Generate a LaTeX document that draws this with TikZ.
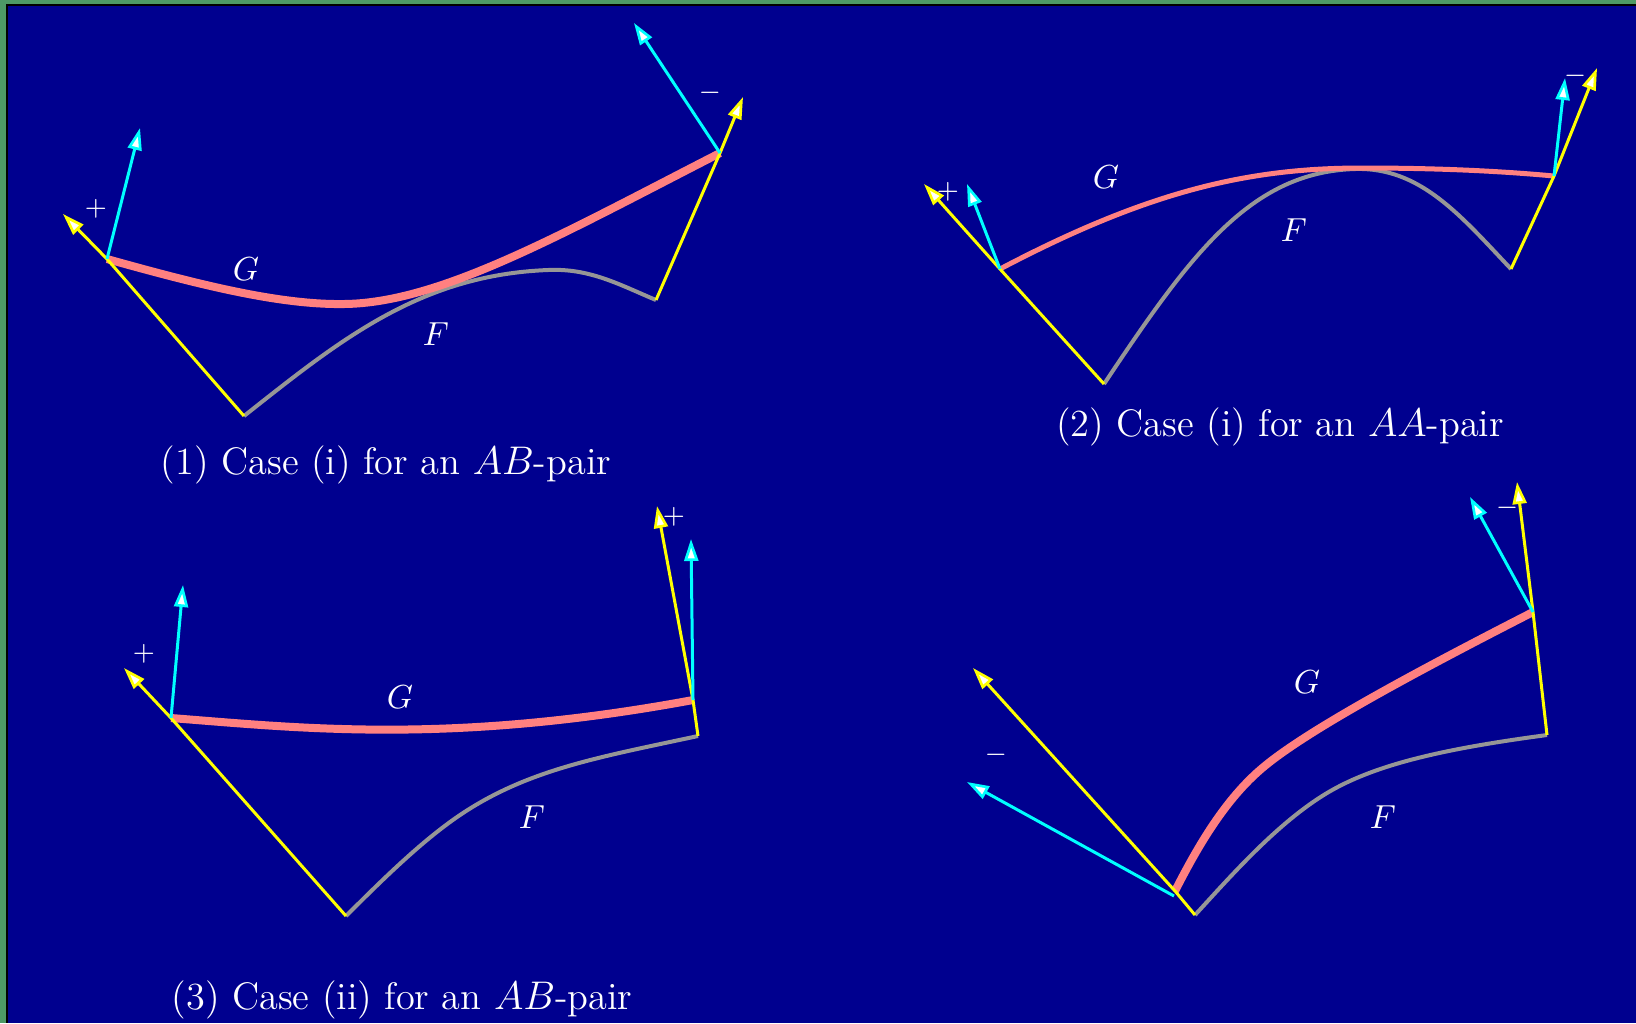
\documentclass[tikz,border=0pt]{standalone}
\usetikzlibrary{arrows.meta}
\definecolor{bgblue}{RGB}{0,0,143}
\definecolor{framegreen}{RGB}{77,153,102}
\definecolor{salmonG}{RGB}{255,128,128}
\definecolor{grayF}{RGB}{150,150,150}
\definecolor{cyanV}{RGB}{0,255,255}
\definecolor{yellowV}{RGB}{255,255,0}
\begin{document}
\begin{tikzpicture}[x=0.3pt,y=-0.3pt,
  tipA/.tip={Triangle[length=6.6pt,width=4.2pt,fill=white,line width=0.8pt]},
  yline/.style={draw=yellowV,line width=0.9pt,-tipA},
  cline/.style={draw=cyanV,line width=0.9pt,-tipA},
  fcurve/.style={draw=grayF,line width=1.2pt},
  gcurve/.style={draw=salmonG,line width=2.4pt},
  gthin/.style={draw=salmonG,line width=1.5pt},
  lab/.style={text=white,inner sep=0pt,font=\fontsize{10}{12}\selectfont},
  sgn/.style={text=white,inner sep=0pt,font=\fontsize{8}{10}\selectfont},
  captext/.style={text=white,inner sep=0pt,font=\fontsize{11.5}{13}\selectfont}]
\useasboundingbox (0,0) rectangle (1636,1023);
\fill[framegreen] (0,0) rectangle (1636,1023);
\fill[black] (6,4) rectangle (1636,1023);
\fill[bgblue] (8,6) rectangle (1636,1023);

% ---------- Panel 1 ----------
\coordinate (f1s) at (244,416); \coordinate (f1e) at (656,300);
\coordinate (g1s) at (107,259); \coordinate (g1e) at (720,153);
\coordinate (y1a) at (63,214); \coordinate (y1b) at (743,97);
\coordinate (c1a) at (140,128); \coordinate (c1b) at (634,23);
\draw[fcurve] (f1s) .. controls (340,340) and (420,275) .. (548,270) .. controls (590,268) and (620,285) .. (f1e);
\draw[gcurve] (g1s) .. controls (200,285) and (280,305) .. (344,304) .. controls (440,303) and (560,235) .. (g1e);
\draw[yline] (f1s) -- (g1s) -- (y1a);
\draw[yline] (f1e) -- (g1e) -- (y1b);
\draw[cline] (g1s) -- (c1a);
\draw[cline] (g1e) -- (c1b);
\node[sgn] (p1a) at (96,209) {$+$};
\node[sgn] (p1b) at (710,93) {$-$};
\node[lab] (G1) at (246,269) {$G$};
\node[lab] (F1) at (436,334) {$F$};
\node[captext] (cap1) at (386,465) {(1) Case (i) for an $AB$-pair};

% ---------- Panel 2 ----------
\coordinate (f2s) at (1104,384); \coordinate (f2e) at (1511,269);
\coordinate (g2s) at (1000,269); \coordinate (g2e) at (1554,176);
\coordinate (y2a) at (924,184); \coordinate (y2b) at (1597,68);
\coordinate (c2a) at (967,184); \coordinate (c2b) at (1565,78);
\draw[fcurve] (f2s) .. controls (1190,255) and (1250,172) .. (1355,169) .. controls (1420,167) and (1460,215) .. (f2e);
\draw[gthin] (g2s) .. controls (1150,190) and (1250,168) .. (1362,168) .. controls (1450,168) and (1510,172) .. (g2e);
\draw[yline] (f2s) -- (g2s) -- (y2a);
\draw[yline] (f2e) -- (g2e) -- (y2b);
\draw[cline] (g2s) -- (c2a);
\draw[cline] (g2e) -- (c2b);
\node[sgn] (p2a) at (948,192) {$+$};
\node[sgn] (p2b) at (1575,76) {$-$};
\node[lab] (G2) at (1106,177) {$G$};
\node[lab] (F2) at (1294,230) {$F$};
\node[captext] (cap2) at (1280,427) {(2) Case (i) for an $AA$-pair};

% ---------- Panel 3 ----------
\coordinate (f3s) at (346,916); \coordinate (f3e) at (698,736);
\coordinate (g3s) at (171,718); \coordinate (g3e) at (693,700);
\coordinate (y3a) at (124,668); \coordinate (y3b) at (657,506);
\coordinate (c3a) at (183,585); \coordinate (c3b) at (691,539);
\draw[fcurve] (f3s) .. controls (385,877) and (425,838) .. (463,813) .. controls (530,769) and (600,757) .. (f3e);
\draw[gcurve] (g3s) .. controls (300,728) and (450,745) .. (g3e);
\draw[yline] (f3s) -- (g3s) -- (y3a);
\draw[yline] (f3e) -- (g3e) -- (y3b);
\draw[cline] (g3s) -- (c3a);
\draw[cline] (g3e) -- (c3b);
\node[sgn] (p3a) at (144,654) {$+$};
\node[sgn] (p3b) at (674,517) {$+$};
\node[lab] (G3) at (400,697) {$G$};
\node[lab] (F3) at (532,817) {$F$};
\node[captext] (cap3) at (402,1000) {(3) Case (ii) for an $AB$-pair};

% ---------- Panel 4 ----------
\coordinate (f4s) at (1195,915); \coordinate (f4e) at (1547,735);
\coordinate (g4s) at (1175,891); \coordinate (g4e) at (1533,612);
\coordinate (y4a) at (973,668); \coordinate (y4b) at (1517,482);
\coordinate (c4s) at (1174,896);
\coordinate (c4a) at (967,782); \coordinate (c4b) at (1470,497);
\draw[fcurve] (f4s) .. controls (1230,877) and (1277,823) .. (1327,793) .. controls (1377,763) and (1450,748) .. (f4e);
\draw[gcurve] (g4s) .. controls (1195,852) and (1222,803) .. (1260,770) .. controls (1300,735) and (1400,680) .. (g4e);
\draw[yline] (f4s) -- (g4s) -- (y4a);
\draw[yline] (f4e) -- (g4e) -- (y4b);
\draw[cline] (c4s) -- (c4a);
\draw[cline] (g4e) -- (c4b);
\node[sgn] (p4a) at (996,755) {$-$};
\node[sgn] (p4b) at (1507,508) {$-$};
\node[lab] (G4) at (1307,682) {$G$};
\node[lab] (F4) at (1383,817) {$F$};
\end{tikzpicture}
\end{document}
